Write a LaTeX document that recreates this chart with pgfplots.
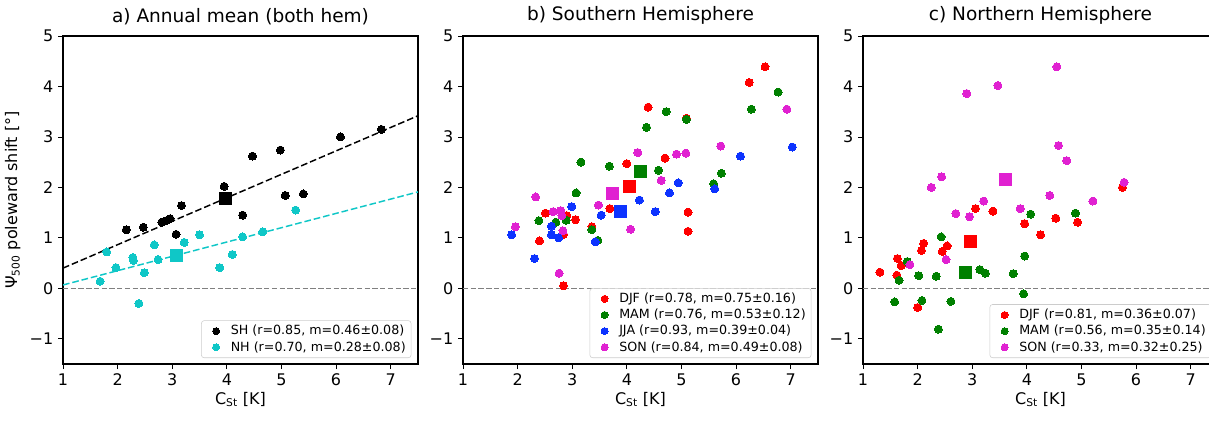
\documentclass[border=0pt]{standalone}
\usepackage{fontspec}
\setmainfont{DejaVu Sans}
\usepackage{pgfplots}
\pgfplotsset{compat=1.18}
\definecolor{cSH}{rgb}{0,0,0}
\definecolor{cNH}{rgb}{0.06,0.78,0.78}
\definecolor{cDJF}{rgb}{1,0,0}
\definecolor{cMAM}{rgb}{0,0.5,0}
\definecolor{cJJA}{rgb}{0.05,0.2,1}
\definecolor{cSON}{rgb}{0.88,0.13,0.82}
\pgfplotsset{
  panel/.style={
    scale only axis, width=266.25pt, height=246pt,
    xmin=1, xmax=7.5, ymin=-1.5, ymax=5,
    xtick={1,2,3,4,5,6,7}, ytick={-1,0,1,2,3,4,5},
    yticklabels={−1,0,1,2,3,4,5},
    xticklabels={1,2,3,4,5,6,7},
    tick align=outside, tick pos=left,
    major tick length=3.75pt,
    tick style={black, line width=0.6pt},
    axis line style={black, line width=0.8pt},
    ticklabel style={font=\fontsize{12}{14}\selectfont},
    /pgf/number format/assume math mode=true,
    label style={font=\fontsize{12}{14}\selectfont},
    title style={font=\fontsize{13.9}{16}\selectfont, yshift=-1pt},
    xlabel={C\textsubscript{St} [K]},
    xlabel style={yshift=2pt},
    legend style={at={(1,0)}, anchor=south east, xshift=-5pt, yshift=4.5pt,
      font=\fontsize{9.5}{10.4}\selectfont, draw=black!20, rounded corners=2pt,
      fill=white, inner xsep=2pt, inner ysep=1.5pt, row sep=-0.6pt,
      /tikz/every odd column/.append style={column sep=6pt}},
    legend cell align=left,
    legend image code/.code={%
      \path (-9pt,0) (3pt,0);
      \draw[#1, mark size=2.6pt] plot coordinates {(0pt,0pt)};},
    every axis plot/.append style={line width=0.9pt},
  },
  dot/.style={only marks, mark=*, mark size=3pt, draw=none, fill=#1, mark options={draw=#1, fill=#1, line width=0pt}},
  sq/.style={only marks, mark=square*, mark size=4.5pt, mark options={draw=#1, fill=#1, line width=0pt}, forget plot},
  zero/.style={gray, line width=0.8pt, dash pattern=on 4pt off 1.8pt, forget plot},
  fit/.style={#1, line width=1.1pt, dash pattern=on 5pt off 2.2pt, forget plot},
}
\begin{document}
\begin{tikzpicture}
% ---------- a) ----------
\begin{axis}[panel, at={(47.25pt,42.75pt)}, anchor=south west,
  title={a) Annual mean (both hem)},
  ylabel={Ψ\textsubscript{500} poleward shift [°]}]
\addplot[zero] coordinates {(1,0) (7.5,0)};
\addplot[dot=cSH] coordinates {(2.16,1.16) (2.47,1.21) (2.81,1.31) (2.89,1.34) (2.96,1.38) (3.07,1.07) (3.17,1.64) (3.95,2.02) (4.29,1.45) (4.47,2.62) (4.98,2.74) (5.07,1.84) (5.40,1.87) (6.08,3.00) (6.83,3.15)};
\addlegendentry{SH (r=0.85, m=0.46±0.08)}
\addplot[dot=cNH] coordinates {(1.80,0.72) (1.68,0.14) (1.97,0.41) (2.28,0.61) (2.29,0.55) (2.39,-0.30) (2.49,0.31) (2.67,0.86) (2.74,0.57) (3.22,0.91) (3.50,1.06) (3.87,0.41) (4.10,0.67) (4.29,1.02) (4.66,1.12) (5.26,1.55)};
\addlegendentry{NH (r=0.70, m=0.28±0.08)}
\addplot[fit=black] coordinates {(1,0.40) (7.5,3.42)};
\addplot[fit=cNH] coordinates {(1,0.066) (7.5,1.91)};
\addplot[sq=cSH] coordinates {(3.98,1.77)};
\addplot[sq=cNH] coordinates {(3.08,0.66)};
\end{axis}
% ---------- b) ----------
\begin{axis}[panel, at={(347.25pt,42.75pt)}, anchor=south west,
  title={b) Southern Hemisphere}]
\addplot[zero] coordinates {(1,0) (7.5,0)};
\addplot[dot=cDJF] coordinates {(6.53,4.39) (6.24,4.08) (4.39,3.59) (5.09,3.37) (4.70,2.58) (4.00,2.47) (3.69,1.58) (5.12,1.51) (5.12,1.13) (2.51,1.49) (2.90,1.44) (3.06,1.36) (3.36,1.22) (2.84,1.07) (2.40,0.94) (2.84,0.05)};
\addlegendentry{DJF (r=0.78, m=0.75±0.16)}
\addplot[dot=cMAM] coordinates {(6.77,3.89) (6.28,3.55) (4.72,3.50) (4.36,3.19) (5.09,3.35) (3.16,2.50) (3.68,2.42) (4.58,2.34) (5.73,2.28) (5.59,2.07) (3.07,1.89) (2.39,1.34) (2.70,1.31) (2.89,1.35) (3.36,1.16) (3.47,0.95)};
\addlegendentry{MAM (r=0.76, m=0.53±0.12)}
\addplot[dot=cJJA] coordinates {(7.03,2.80) (6.08,2.62) (4.94,2.09) (5.61,1.97) (4.78,1.89) (4.23,1.75) (4.52,1.52) (2.99,1.62) (3.53,1.45) (2.62,1.23) (2.62,1.06) (2.75,1.00) (1.89,1.06) (3.42,0.92) (2.31,0.59)};
\addlegendentry{JJA (r=0.93, m=0.39±0.04)}
\addplot[dot=cSON] coordinates {(6.93,3.55) (5.72,2.82) (4.20,2.69) (4.91,2.66) (5.08,2.68) (4.63,2.14) (2.33,1.81) (3.48,1.65) (2.65,1.52) (2.79,1.54) (2.81,1.44) (1.96,1.22) (2.83,1.14) (4.07,1.17) (2.76,0.30)};
\addlegendentry{SON (r=0.84, m=0.49±0.08)}
\addplot[sq=cDJF] coordinates {(4.04,2.02)};
\addplot[sq=cMAM] coordinates {(4.25,2.31)};
\addplot[sq=cJJA] coordinates {(3.88,1.53)};
\addplot[sq=cSON] coordinates {(3.74,1.87)};
\end{axis}
% ---------- c) ----------
\begin{axis}[panel, at={(647.25pt,42.75pt)}, anchor=south west,
  title={c) Northern Hemisphere}]
\addplot[zero] coordinates {(1,0) (7.5,0)};
\addplot[dot=cDJF] coordinates {(5.75,2.00) (3.06,1.58) (3.38,1.53) (3.96,1.28) (4.53,1.39) (4.93,1.31) (4.25,1.06) (2.11,0.89) (2.07,0.75) (2.54,0.84) (2.45,0.73) (1.63,0.59) (1.70,0.45) (1.62,0.26) (1.31,0.32) (2.00,-0.38)};
\addlegendentry{DJF (r=0.81, m=0.36±0.07)}
\addplot[dot=cMAM] coordinates {(4.89,1.49) (4.07,1.47) (2.43,1.02) (3.96,0.64) (1.81,0.53) (3.14,0.37) (3.24,0.30) (3.75,0.29) (2.02,0.25) (2.34,0.24) (1.66,0.16) (3.94,-0.11) (2.08,-0.24) (2.61,-0.26) (1.58,-0.27) (2.38,-0.81)};
\addlegendentry{MAM (r=0.56, m=0.35±0.14)}
\addplot[dot=cSON] coordinates {(4.55,4.39) (3.47,4.02) (2.90,3.86) (4.58,2.83) (4.73,2.53) (2.44,2.21) (2.25,2.00) (5.78,2.10) (4.42,1.84) (3.21,1.73) (5.21,1.73) (3.88,1.58) (2.70,1.48) (2.95,1.42) (2.52,0.57) (1.86,0.47)};
\addlegendentry{SON (r=0.33, m=0.32±0.25)}
\addplot[sq=cDJF] coordinates {(2.96,0.92)};
\addplot[sq=cMAM] coordinates {(2.87,0.31)};
\addplot[sq=cSON] coordinates {(3.60,2.16)};
\end{axis}
\pgfresetboundingbox
\useasboundingbox (0,0) rectangle (906.75pt,315.75pt);
\end{tikzpicture}
\end{document}
